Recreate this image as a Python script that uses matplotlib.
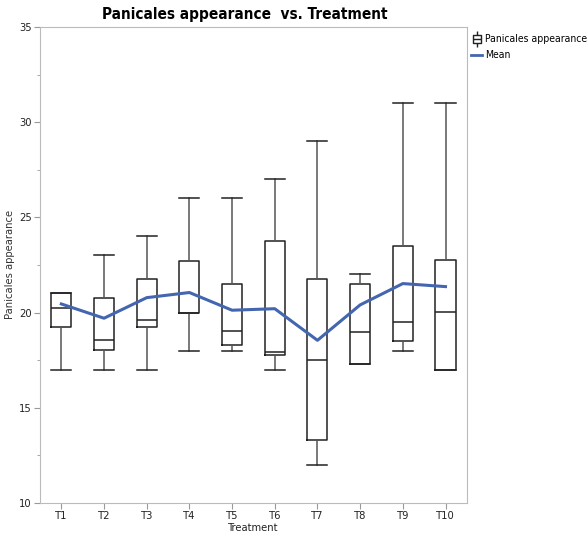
import matplotlib.pyplot as plt
import numpy as np
from matplotlib.path import Path
from matplotlib.lines import Line2D
from matplotlib.ticker import MultipleLocator

plt.rcParams['font.family'] = ['DejaVu Sans']
plt.rcParams['font.stretch'] = 'condensed'

# 数据
treatments = ['T1', 'T2', 'T3', 'T4', 'T5', 'T6', 'T7', 'T8', 'T9', 'T10']
whis_lo = [17.0, 17.0, 17.0, 18.0, 18.0, 17.0, 12.0, 17.27, 18.0, 17.0]
q1 = [19.23, 18.03, 19.23, 20.0, 18.3, 17.77, 13.29, 17.27, 18.51, 17.0]
medians = [20.26, 18.53, 19.63, 20.0, 19.03, 17.9, 17.5, 19.0, 19.52, 20.03]
q3 = [21.0, 20.75, 21.76, 22.73, 21.5, 23.76, 21.78, 21.5, 23.52, 22.75]
whis_hi = [21.0, 23.0, 24.0, 26.0, 26.0, 27.0, 29.0, 22.0, 31.0, 31.0]
means = [20.45, 19.7, 20.78, 21.05, 20.12, 20.2, 18.54, 20.4, 21.52, 21.36]

stats = []
for i, t in enumerate(treatments):
    stats.append(dict(label=t, whislo=whis_lo[i], q1=q1[i], med=medians[i],
                      q3=q3[i], whishi=whis_hi[i], fliers=[]))

fig = plt.figure(figsize=(5.88, 5.39), dpi=100)
ax = fig.add_axes([0.068, 0.067, 0.726, 0.883])

pos = np.arange(1, len(treatments) + 1)
ax.bxp(stats, positions=pos, widths=0.47, showfliers=False,
       boxprops=dict(color='#222222', linewidth=1.1),
       medianprops=dict(color='#222222', linewidth=1.1),
       whiskerprops=dict(color='#555555', linewidth=1.1),
       capprops=dict(color='#222222', linewidth=1.1),
       capwidths=0.47)

ax.plot(pos, means, color='#4466b0', linewidth=2.2, zorder=5)

ax.set_xlim(0.5, len(treatments) + 0.5)
ax.set_ylim(10, 35)
ax.yaxis.set_major_locator(MultipleLocator(5))
ax.yaxis.set_minor_locator(MultipleLocator(2.5))
ax.set_xticks(pos)
ax.set_xticklabels(treatments)

for s in ax.spines.values():
    s.set_color('#bbbbbb')
ax.tick_params(axis='both', colors='#999999', labelcolor='#222222', labelsize=8, length=4, pad=2)
ax.tick_params(axis='y', which='minor', colors='#999999', length=2.5)

ax.set_xlabel('Treatment', fontsize=8, color='#222222', labelpad=1)
ax.set_ylabel('Panicales appearance', fontsize=8, color='#333333', labelpad=3)
ax.set_title('Panicales appearance  vs. Treatment', fontsize=11, fontweight='bold',
             pad=6, x=0.48)

# 图例：箱线符号
box_marker = Path([(-0.5, -0.45), (0.5, -0.45), (0.5, 0.45), (-0.5, 0.45), (-0.5, -0.45),
                   (0, 0.45), (0, 1.0), (0, -0.45), (0, -1.0), (-0.5, 0.05), (0.5, 0.05)],
                  [Path.MOVETO, Path.LINETO, Path.LINETO, Path.LINETO, Path.CLOSEPOLY,
                   Path.MOVETO, Path.LINETO, Path.MOVETO, Path.LINETO, Path.MOVETO, Path.LINETO])
handles = [Line2D([], [], linestyle='none', marker=box_marker, markersize=12,
                  markerfacecolor='white', markeredgecolor='#222222', markeredgewidth=1),
           Line2D([], [], color='#4466b0', linewidth=2)]
fig.legend(handles, ['Panicales appearance', 'Mean'], loc='upper left',
           bbox_to_anchor=(0.798, 0.94), frameon=False, fontsize=7.5,
           handlelength=1.0, handletextpad=0.3, labelspacing=0.55, borderpad=0.2,
           borderaxespad=0.0)

fig.savefig('out.png', dpi=100)
